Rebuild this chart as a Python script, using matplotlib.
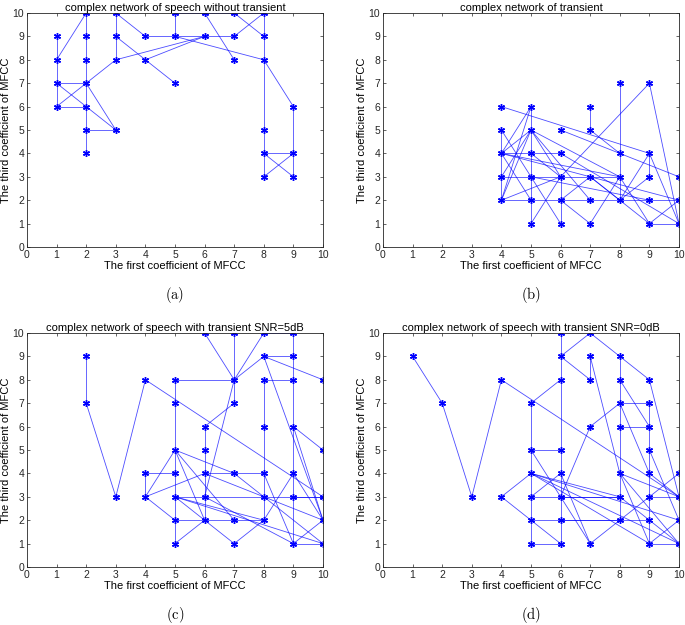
import matplotlib
matplotlib.use("Agg")
import matplotlib.pyplot as plt

plt.rcParams["font.family"] = ["Liberation Sans", "DejaVu Sans"]
plt.rcParams["mathtext.fontset"] = "cm"

# ---------------------------------------------------------------- edges per panel: ((x1, y1), (x2, y2))
edges_a = [
    ((1, 9), (1, 8)), ((1, 8), (2, 10)), ((1, 8), (1, 7)), ((1, 7), (1, 6)),
    ((1, 7), (2, 7)), ((1, 6), (2, 7)), ((1, 7), (3, 5)), ((1, 6), (2, 6)),
    ((2, 7), (3, 5)), ((2, 5), (3, 5)),
    ((2, 10), (2, 9)), ((2, 9), (2, 8)), ((2, 8), (2, 7)), ((2, 7), (2, 6)),
    ((2, 6), (2, 5)), ((2, 5), (2, 4)),
    ((2, 7), (3, 8)), ((3, 8), (6, 9)), ((3, 10), (3, 9)), ((3, 9), (3, 8)),
    ((3, 10), (4, 9)), ((3, 9), (4, 8)), ((4, 8), (5, 7)), ((4, 8), (6, 9)),
    ((4, 9), (5, 9)), ((5, 9), (6, 9)), ((6, 9), (7, 9)),
    ((5, 10), (5, 9)), ((5, 10), (6, 10)), ((6, 10), (7, 10)), ((7, 10), (8, 10)),
    ((6, 10), (7, 8)), ((5, 9), (8, 8)), ((7, 9), (8, 10)), ((7, 10), (8, 9)),
    ((8, 10), (8, 9)), ((8, 9), (8, 8)), ((8, 8), (8, 5)), ((8, 5), (8, 4)),
    ((8, 4), (8, 3)), ((8, 8), (9, 6)), ((9, 6), (9, 4)), ((9, 4), (9, 3)),
    ((8, 4), (9, 4)), ((8, 4), (9, 3)), ((8, 3), (9, 4)),
]

edges_b = [
    ((4, 5), (4, 4)), ((4, 4), (4, 3)), ((4, 3), (4, 2)),
    ((4, 6), (9, 4)), ((6, 5), (10, 3)), ((4, 4), (6, 4)),
    ((4, 4), (5, 6)), ((4, 4), (5, 5)), ((4, 2), (5, 5)), ((4, 2), (5, 6)),
    ((4, 3), (5, 5)), ((4, 5), (5, 3)), ((4, 4), (5, 2)), ((4, 4), (8, 3)),
    ((4, 4), (10, 2)), ((4, 3), (8, 3)), ((4, 2), (10, 2)), ((4, 2), (6, 3)),
    ((5, 6), (5, 5)), ((5, 5), (5, 4)), ((5, 4), (5, 3)), ((5, 3), (5, 2)),
    ((5, 2), (5, 1)), ((5, 5), (6, 3)), ((5, 5), (7, 2)), ((5, 5), (8, 3)),
    ((5, 4), (6, 3)), ((5, 3), (6, 1)), ((5, 1), (6, 3)), ((5, 3), (9, 2)),
    ((6, 3), (6, 2)), ((6, 2), (6, 1)), ((6, 3), (9, 7)), ((6, 2), (7, 3)),
    ((7, 6), (7, 5)), ((7, 5), (8, 4)), ((6, 2), (7, 1)), ((7, 1), (8, 3)),
    ((7, 3), (8, 2)), ((8, 7), (8, 4)), ((8, 4), (8, 3)), ((8, 3), (8, 2)),
    ((8, 3), (9, 1)), ((8, 2), (9, 4)), ((8, 2), (9, 3)), ((9, 7), (10, 1)),
    ((9, 4), (10, 1)), ((9, 4), (9, 3)), ((9, 1), (10, 1)), ((9, 1), (10, 2)),
    ((10, 3), (10, 2)), ((10, 2), (10, 1)), ((6, 4), (10, 1)), ((7, 3), (9, 1)),
]

edges_c = [
    ((2, 9), (2, 7)), ((2, 7), (3, 3)), ((3, 3), (4, 8)), ((4, 8), (10, 3)),
    ((4, 4), (4, 3)), ((4, 4), (5, 4)), ((4, 3), (6, 4)), ((4, 3), (5, 5)),
    ((4, 3), (5, 2)),
    ((5, 8), (5, 7)), ((5, 7), (5, 5)), ((5, 5), (5, 4)), ((5, 4), (5, 3)),
    ((5, 3), (5, 2)), ((5, 2), (5, 1)), ((5, 8), (7, 8)),
    ((5, 5), (6, 2)), ((5, 5), (7, 4)), ((5, 5), (7, 2)), ((5, 3), (10, 3)),
    ((5, 2), (8, 2)), ((5, 3), (6, 2)), ((5, 1), (6, 2)), ((5, 3), (8, 2)),
    ((5, 3), (10, 1)),
    ((6, 6), (6, 5)), ((6, 5), (6, 4)), ((6, 4), (6, 3)), ((6, 3), (6, 2)),
    ((6, 10), (7, 8)), ((6, 6), (7, 7)), ((6, 3), (7, 8)),
    ((7, 10), (7, 8)), ((7, 8), (7, 7)), ((7, 8), (8, 9)), ((7, 8), (8, 10)),
    ((8, 10), (9, 10)), ((8, 9), (9, 9)), ((8, 9), (10, 8)), ((8, 9), (10, 2)),
    ((8, 8), (9, 8)), ((8, 8), (8, 6)), ((8, 6), (8, 4)), ((8, 4), (8, 3)),
    ((8, 3), (8, 2)),
    ((9, 10), (9, 1)), ((9, 6), (10, 5)), ((9, 6), (10, 2)), ((9, 4), (10, 2)),
    ((9, 3), (10, 3)), ((10, 8), (10, 1)),
    ((6, 4), (8, 4)), ((6, 4), (10, 2)), ((7, 4), (8, 3)), ((8, 3), (10, 1)),
    ((8, 2), (9, 4)), ((7, 1), (8, 2)), ((6, 2), (7, 1)), ((9, 1), (10, 2)),
    ((9, 1), (10, 1)), ((8, 4), (9, 1)), ((6, 3), (9, 1)),
]

edges_d = [
    ((1, 9), (2, 7)), ((2, 7), (3, 3)), ((3, 3), (4, 8)), ((4, 8), (10, 3)),
    ((4, 3), (5, 4)), ((4, 3), (5, 2)),
    ((5, 7), (5, 5)), ((5, 5), (5, 4)), ((5, 4), (5, 3)), ((5, 3), (5, 2)),
    ((5, 2), (5, 1)), ((5, 5), (6, 5)), ((5, 5), (6, 3)), ((5, 7), (6, 8)),
    ((6, 10), (6, 1)),
    ((6, 9), (7, 10)), ((6, 9), (7, 8)), ((7, 9), (7, 8)), ((7, 9), (8, 4)),
    ((7, 10), (8, 9)), ((8, 9), (9, 8)), ((9, 8), (10, 3)), ((8, 9), (8, 2)),
    ((5, 4), (10, 1)), ((5, 4), (9, 1)), ((5, 4), (8, 3)), ((5, 4), (10, 2)),
    ((5, 3), (8, 3)), ((5, 2), (9, 2)), ((5, 2), (6, 1)), ((5, 1), (6, 1)),
    ((5, 3), (6, 4)),
    ((6, 4), (7, 1)), ((6, 3), (7, 1)), ((7, 1), (8, 2)), ((7, 6), (8, 7)),
    ((6, 3), (7, 6)), ((6, 3), (8, 3)), ((6, 2), (8, 2)),
    ((8, 7), (9, 7)), ((8, 6), (9, 6)), ((9, 7), (9, 1)),
    ((8, 8), (9, 6)), ((8, 7), (9, 4)), ((8, 4), (10, 1)), ((8, 4), (10, 3)),
    ((8, 4), (9, 1)), ((8, 3), (10, 1)), ((9, 4), (10, 3)), ((9, 3), (10, 3)),
    ((9, 1), (10, 1)), ((9, 1), (10, 2)), ((9, 3), (10, 4)), ((10, 4), (10, 1)),
    ((8, 2), (9, 3)), ((9, 5), (10, 2)),
]

titles = [
    "complex network of speech without transient",
    "complex network of transient",
    "complex network of speech with transient SNR=5dB",
    "complex network of speech with transient SNR=0dB",
]
captions = ["(a)", "(b)", "(c)", "(d)"]
all_edges = [edges_a, edges_b, edges_c, edges_d]

fig = plt.figure(figsize=(6.85, 6.25), dpi=100)
W, H = 685, 625
boxes = [(27, 13), (383, 13), (27, 333), (383, 333)]  # left, top in px
aw, ah = 296, 234

for i, (edges, title, cap) in enumerate(zip(all_edges, titles, captions)):
    left, top = boxes[i]
    ax = fig.add_axes([left / W, 1 - (top + ah) / H, aw / W, ah / H])
    nodes = set()
    for p, q in edges:
        ax.plot([p[0], q[0]], [p[1], q[1]], color="#0000ff", lw=0.6, alpha=0.7,
                solid_capstyle="butt")
        nodes.add(p)
        nodes.add(q)
    nx = [n[0] for n in nodes]
    ny = [n[1] for n in nodes]
    ax.plot(nx, ny, ls="none", marker=(6, 2, 0), ms=5, color="#0000ff", mew=1.0)
    ax.set_xlim(0, 10)
    ax.set_ylim(0, 10)
    ax.set_xticks(range(11))
    ax.set_yticks(range(11))
    ax.tick_params(direction="in", length=2.5, width=0.5, labelsize=7.5,
                   top=True, right=True, pad=2, colors="#262626")
    for s in ax.spines.values():
        s.set_linewidth(0.6)
        s.set_color("#262626")
    ax.set_title(title, fontsize=8, pad=1.5)
    ax.set_xlabel("The first coefficient of MFCC", fontsize=8, labelpad=1)
    ax.set_ylabel("The third coefficient of MFCC", fontsize=8, labelpad=1)
    fig.text((left + aw / 2) / W, 1 - (top + ah + 48) / H, r"$\mathrm{" + cap + "}$",
             ha="center", va="center", fontsize=10.5)

fig.savefig("out.png", dpi=100)
